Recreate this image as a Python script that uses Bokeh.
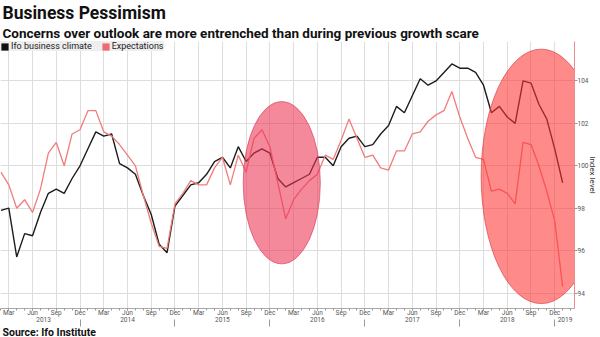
from bokeh.plotting import figure
from bokeh.models import Range1d, LinearAxis, FixedTicker, Title, Legend, LegendItem
from bokeh.embed import file_html
from bokeh.resources import INLINE

NAN = float("nan")

# month index: 0 = Jan 2013; data runs Feb 2013 .. Jan 2019
month_index = list(range(1, 73))

ifo_climate = [
    97.9, 98.0, 95.7, 96.8, 96.7, 97.8, 98.7, 98.9, 98.7, 99.4, 100.0,          # 2013 Feb-Dec
    100.8, 101.6, 101.4, 101.5, 100.1, 99.9, 99.6, 98.6, 97.7, 96.3, 95.9, 98.1,  # 2014
    98.6, 99.1, 99.2, 99.6, 100.2, 100.4, 99.9, 100.9, 100.2, 100.6, 100.8, 100.6,  # 2015
    99.4, 99.0, 99.2, 99.4, 99.6, 100.4, 100.4, 100.0, 100.9, 101.3, 101.4, 100.9,  # 2016
    101.0, 101.5, 101.9, 102.8, 102.5, 103.3, 104.1, 103.8, 104.0, 104.4, 104.8, 104.6,  # 2017
    104.6, 104.4, 103.8, 102.5, 102.8, 102.3, 102.0, 104.0, 103.9, 102.9, 102.2, 100.8,  # 2018
    99.2,                                                                            # 2019 Jan
]

expectations = [
    99.7, 99.1, 98.0, 98.4, 97.8, 98.9, 100.6, 101.1, 100.0, 101.5, 101.7,
    102.6, 102.6, 101.6, 101.4, 101.0, 100.5, 100.0, 98.6, 97.3, 96.2, 96.1, 98.2,
    98.7, 99.3, 99.1, 99.1, 99.9, 100.4, 99.1, 100.5, 99.7, 101.3, 101.7, 100.9,
    99.2, 97.5, 98.4, 98.9, 99.3, 99.6, 100.5, 100.3, 101.2, 102.2, 101.3, 100.4,
    100.5, 99.9, 99.8, 100.7, 100.7, 101.5, 101.6, 102.1, 102.4, 102.6, 103.5, 102.3,
    101.3, 100.4, 100.3, 98.8, 98.9, 98.7, 98.2, 101.1, 101.0, 100.0, 98.8, 97.4,
    94.3,
]

quarter_ticks = list(range(2, 72, 3))            # Mar 2013 .. Dec 2018
quarter_labels = ["Mar", "Jun", "Sep", "Dec"] * 6
year_labels = ["2013", "2014", "2015", "2016", "2017", "2018", "2019"]
year_label_pos = [6.4, 17, 29, 41, 53, 65, 72.3]
year_marks = [11, 23, 35, 47, 59, 71]
y_ticks = [94, 96, 98, 100, 102, 104]

# highlighted periods (ellipses)
hl_x = [36.5, 69.3]
hl_y = [99.2, 99.5]
hl_w = [9.75, 15.2]
hl_h = [7.65, 12.0]

p = figure(width=600, height=337, output_backend="svg", toolbar_location=None,
           x_range=Range1d(0.95, 73.5), y_range=Range1d(93.27, 105.86),
           y_axis_location="right",
           min_border_left=0, min_border_right=0, min_border_top=0, min_border_bottom=0)
p.outline_line_color = None
p.background_fill_color = "white"

# grids
p.xgrid.ticker = FixedTicker(ticks=quarter_ticks)
p.ygrid.ticker = FixedTicker(ticks=y_ticks)
p.xgrid.grid_line_color = "#dedede"
p.ygrid.grid_line_color = "#dedede"

# lines
p.line(month_index, ifo_climate, line_color="#1c1c1c", line_width=1.4)
p.line(month_index, expectations, line_color="#f07c7c", line_width=1.3)

# highlight ellipses (drawn over lines)
p.ellipse(x=hl_x, y=hl_y, width=hl_w, height=hl_h,
          fill_color=["#ee3355", "#ff3535"], fill_alpha=0.58,
          line_color=["#dd4460", "#dd4444"], line_alpha=0.7, line_width=1)

# legend with square swatches (renderers hold no visible data)
r1 = p.quad(left=[NAN], right=[NAN], top=[NAN], bottom=[NAN], fill_color="#111111", line_color=None)
r2 = p.quad(left=[NAN], right=[NAN], top=[NAN], bottom=[NAN], fill_color="#f06a72", line_color=None)
legend = Legend(items=[LegendItem(label="Ifo business climate", renderers=[r1]),
                       LegendItem(label="Expectations", renderers=[r2])],
                orientation="horizontal", location="top_left", margin=0,
                padding=5, spacing=9, glyph_width=9, glyph_height=9, label_standoff=2,
                label_text_font="Roboto", label_text_font_size="9px", label_text_color="#222",
                background_fill_color="#eeeeee", background_fill_alpha=1,
                border_line_color=None)
p.add_layout(legend)

# x axis (months)
xa = p.xaxis[0]
xa.ticker = FixedTicker(ticks=quarter_ticks, minor_ticks=list(range(1, 74)))
xa.major_label_overrides = {t: lab for t, lab in zip(quarter_ticks, quarter_labels)}
xa.axis_line_color = "#aaaaaa"
xa.major_tick_line_color = "#999999"
xa.minor_tick_line_color = "#999999"
xa.major_tick_in = 0
xa.major_tick_out = 2
xa.minor_tick_in = 0
xa.minor_tick_out = 2
xa.major_label_standoff = -2
xa.major_label_text_font = "Roboto"
xa.major_label_text_font_size = "6.5px"
xa.major_label_text_color = "#555555"

# x axis (years)
ya2 = LinearAxis(ticker=FixedTicker(ticks=year_label_pos, minor_ticks=year_marks))
ya2.major_label_overrides = {t: lab for t, lab in zip(year_label_pos, year_labels)}
ya2.axis_line_color = None
ya2.major_tick_line_color = None
ya2.minor_tick_line_color = "#999999"
ya2.minor_tick_in = 0
ya2.minor_tick_out = 7
ya2.major_tick_in = 0
ya2.major_tick_out = 0
ya2.major_label_standoff = -10
ya2.major_label_text_font = "Roboto"
ya2.major_label_text_font_size = "6.5px"
ya2.major_label_text_color = "#555555"
p.add_layout(ya2, "below")

# y axis (right)
yax = p.yaxis[0]
yax.ticker = FixedTicker(ticks=y_ticks)
yax.axis_line_color = "#f08a8a"
yax.major_tick_line_color = "#999999"
yax.major_tick_in = 0
yax.major_tick_out = 3
yax.major_label_standoff = 0
yax.major_label_text_font = "Roboto"
yax.major_label_text_font_size = "6.5px"
yax.major_label_text_color = "#555555"
yax.axis_label = "Index level"
yax.axis_label_text_font = "Roboto"
yax.axis_label_text_font_size = "8px"
yax.axis_label_text_font_style = "normal"
yax.axis_label_text_color = "#333333"
yax.axis_label_standoff = -3

# titles
p.title.text = "Business Pessimism"
p.title.text_font = "Roboto"
p.title.text_font_style = "bold"
p.title.text_font_size = "17.5px"
p.title.text_color = "#111111"
p.title.align = "left"
p.title.offset = 2
p.title.standoff = 0
p.add_layout(Title(text="Concerns over outlook are more entrenched than during previous growth scare",
                   text_font="Roboto", text_font_style="bold",
                   text_font_size="13.5px", text_color="#111111", align="left", offset=2,
                   standoff=1), "above")

p.add_layout(Title(text="Source: Ifo Institute", text_font="Roboto", text_font_style="bold",
                   text_font_size="10.5px", text_color="#111111", align="left", offset=2,
                   standoff=-2), "below")

open("out.html", "w").write(file_html(p, INLINE))
